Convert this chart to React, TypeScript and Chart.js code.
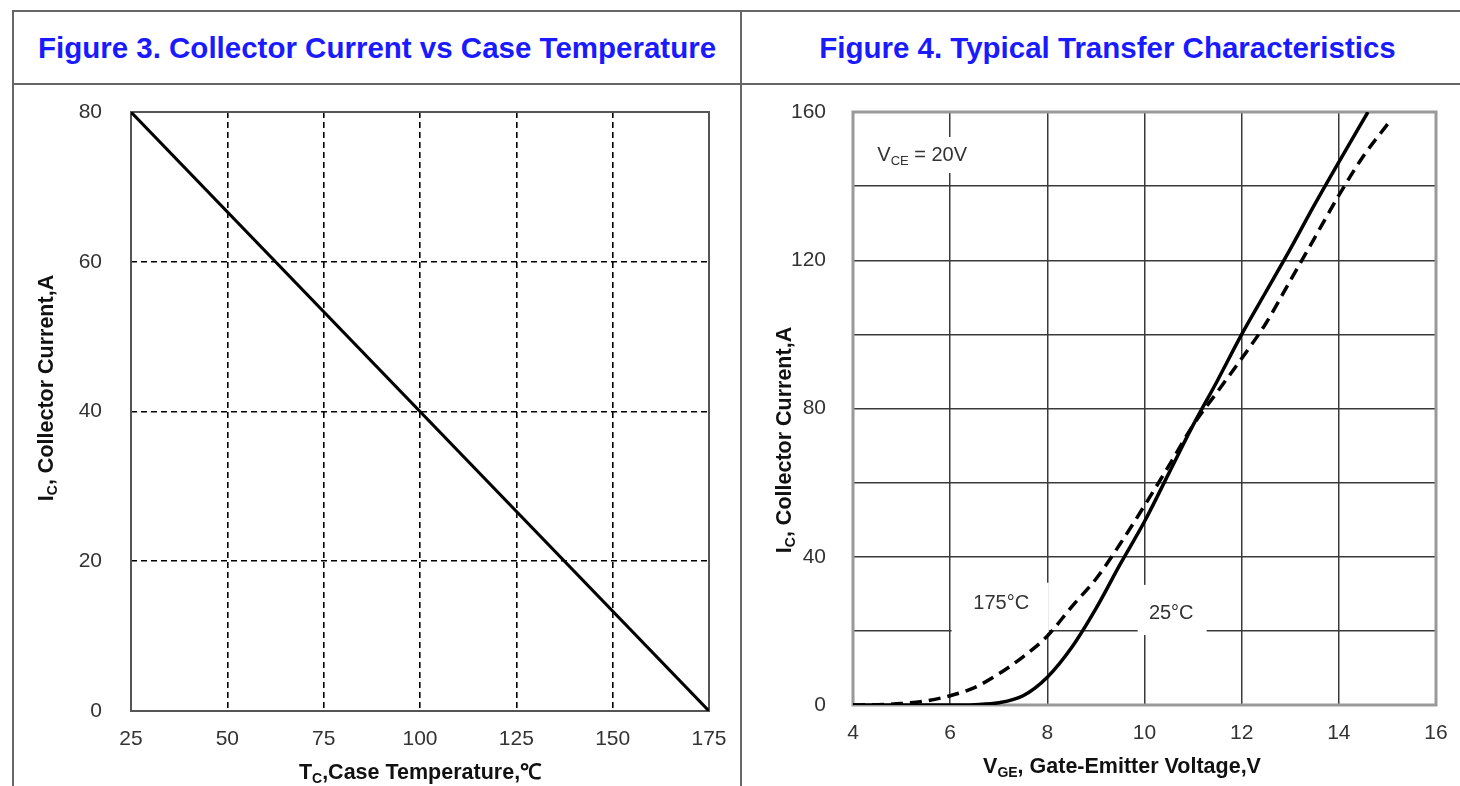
import React, { useEffect, useRef } from "react";
import { Chart, registerables } from "chart.js";

Chart.register(...registerables);

// ---------- Figure 3 data ----------
const caseTempC = [25, 175];
const collectorCurrentA = [80, 0];
const fig3XTicks = [25, 50, 75, 100, 125, 150, 175];
const fig3YTicks = [0, 20, 40, 60, 80];

// ---------- Figure 4 data ----------
const vge25 = [4, 4.5, 5, 5.5, 6, 6.5, 7, 7.5, 8, 8.5, 9, 9.5, 10, 10.5, 11, 11.5, 12, 12.5, 13, 13.5, 14, 14.6];
const ic25 = [0, 0, 0, 0, 0, 0.1, 0.6, 2.5, 7.5, 15.5, 26, 38, 49.5, 62.5, 75.5, 87.5, 100, 111.5, 123, 135, 146.5, 160];
const vge175 = [4, 4.5, 5, 5.5, 6, 6.5, 7, 7.5, 8, 8.5, 9, 9.5, 10, 10.5, 11, 11.5, 12, 12.5, 13, 13.5, 14, 14.5, 15.05];
const ic175 = [0, 0.1, 0.4, 1.1, 2.5, 4.7, 8.4, 13, 18.6, 26.5, 34, 43.5, 53.8, 64.5, 75.5, 84.5, 93.5, 103, 114.5, 126, 137.5, 148, 157.5];
const fig4XTicks = [4, 6, 8, 10, 12, 14, 16];
const fig4YGrid = [0, 20, 40, 60, 80, 100, 120, 140, 160];
const fig4YLabels = [0, 40, 80, 120, 160];

// annotation labels (text, anchor in data units, white box in data units)
const curveLabels = ["175°C", "25°C"];
const curveLabelX = [7.05, 10.55];
const curveLabelY = [27.3, 24.8];
const curveBoxX = [[6.03, 8.03], [9.86, 11.28]];
const curveBoxY = [[19.4, 33], [18.9, 32.4]];

const FAM = '"Liberation Sans", Arial, Helvetica, sans-serif';
const TICK_COLOR = "#333";
const TICK_SIZE = 21;
const AXIS_TITLE_SIZE = 21.5;

type Part = { t: string; sub?: boolean };

function drawRich(
  ctx: CanvasRenderingContext2D,
  parts: Part[],
  x: number,
  y: number,
  size: number,
  bold: boolean,
  align: "left" | "center",
  rotate = false,
  color = "#111"
) {
  const w = bold ? "bold " : "";
  const mainFont = `${w}${size}px ${FAM}`;
  const subFont = `${w}${Math.round(size * 0.66)}px ${FAM}`;
  ctx.save();
  ctx.translate(x, y);
  if (rotate) ctx.rotate(-Math.PI / 2);
  const widths = parts.map((p) => {
    ctx.font = p.sub ? subFont : mainFont;
    return ctx.measureText(p.t).width;
  });
  const total = widths.reduce((a, b) => a + b, 0);
  let cx = align === "center" ? -total / 2 : 0;
  ctx.textBaseline = "middle";
  ctx.textAlign = "left";
  ctx.fillStyle = color;
  parts.forEach((p, i) => {
    ctx.font = p.sub ? subFont : mainFont;
    ctx.fillText(p.t, cx, p.sub ? size * 0.3 : 0);
    cx += widths[i];
  });
  ctx.restore();
  return total;
}

const fixX = (h: number) => (s: any) => {
  s.height = h;
  s.paddingLeft = 0;
  s.paddingRight = 0;
};
const fixY = (w: number) => (s: any) => {
  s.width = w;
  s.paddingTop = 0;
  s.paddingBottom = 0;
};

function Fig3() {
  const ref = useRef<HTMLCanvasElement | null>(null);
  useEffect(() => {
    if (!ref.current) return;
    const framePlugin = {
      id: "fig3frame",
      beforeDatasetsDraw(chart: any) {
        const { ctx, chartArea: a } = chart;
        ctx.save();
        ctx.strokeStyle = "#555";
        ctx.lineWidth = 2;
        ctx.setLineDash([]);
        ctx.strokeRect(a.left, a.top, a.right - a.left, a.bottom - a.top);
        ctx.restore();
      },
      afterDraw(chart: any) {
        const { ctx, chartArea: a } = chart;
        drawRich(
          ctx,
          [{ t: "T" }, { t: "C", sub: true }, { t: ",Case Temperature,℃" }],
          (a.left + a.right) / 2,
          687,
          AXIS_TITLE_SIZE,
          true,
          "center"
        );
        drawRich(
          ctx,
          [{ t: "I" }, { t: "C", sub: true }, { t: ", Collector Current,A" }],
          33,
          302,
          AXIS_TITLE_SIZE,
          true,
          "center",
          true
        );
      },
    };
    const chart = new Chart(ref.current, {
      type: "line",
      data: {
        datasets: [
          {
            data: caseTempC.map((x, i) => ({ x, y: collectorCurrentA[i] })),
            borderColor: "#000",
            borderWidth: 3,
            pointRadius: 0,
            fill: false,
            tension: 0,
          },
        ],
      },
      options: {
        animation: false,
        responsive: false,
        layout: { padding: { top: 26, right: 31, left: 0, bottom: 0 } },
        plugins: { legend: { display: false }, tooltip: { enabled: false }, title: { display: false } },
        scales: {
          x: {
            type: "linear",
            min: 25,
            max: 175,
            afterBuildTicks: (s: any) => {
              s.ticks = fig3XTicks.map((v) => ({ value: v }));
            },
            afterFit: fixX(75),
            grid: {
              drawTicks: false,
              lineWidth: 1.6,
              color: (c: any) =>
                c.tick && (c.tick.value === 25 || c.tick.value === 175) ? "rgba(0,0,0,0)" : "#000",
            },
            border: { display: false, dash: [6, 4] },
            ticks: { padding: 16, color: TICK_COLOR, font: { family: FAM, size: TICK_SIZE }, maxRotation: 0 },
          },
          y: {
            type: "linear",
            min: 0,
            max: 80,
            afterBuildTicks: (s: any) => {
              s.ticks = fig3YTicks.map((v) => ({ value: v }));
            },
            afterFit: fixY(117),
            grid: {
              drawTicks: false,
              lineWidth: 1.6,
              color: (c: any) =>
                c.tick && (c.tick.value === 0 || c.tick.value === 80) ? "rgba(0,0,0,0)" : "#000",
            },
            border: { display: false, dash: [6, 4] },
            ticks: { padding: 29, color: TICK_COLOR, font: { family: FAM, size: TICK_SIZE } },
          },
        },
      },
      plugins: [framePlugin],
    } as any);
    return () => chart.destroy();
  }, []);
  return (
    <canvas
      ref={ref}
      width={726}
      height={700}
      style={{ position: "absolute", left: 14, top: 86, width: 726, height: 700 }}
    />
  );
}

function Fig4() {
  const ref = useRef<HTMLCanvasElement | null>(null);
  useEffect(() => {
    if (!ref.current) return;
    const notesPlugin = {
      id: "fig4notes",
      beforeDatasetsDraw(chart: any) {
        const { ctx, chartArea: a } = chart;
        const xs = chart.scales.x;
        const ys = chart.scales.y;
        ctx.save();
        // frame
        ctx.strokeStyle = "#999";
        ctx.lineWidth = 3;
        ctx.strokeRect(a.left, a.top, a.right - a.left, a.bottom - a.top);
        // white boxes + curve labels
        curveLabels.forEach((t, i) => {
          const x0 = xs.getPixelForValue(curveBoxX[i][0]);
          const x1 = xs.getPixelForValue(curveBoxX[i][1]);
          const y0 = ys.getPixelForValue(curveBoxY[i][1]);
          const y1 = ys.getPixelForValue(curveBoxY[i][0]);
          ctx.fillStyle = "#fff";
          ctx.fillRect(x0, y0, x1 - x0, y1 - y0);
          drawRich(
            ctx,
            [{ t }],
            xs.getPixelForValue(curveLabelX[i]),
            ys.getPixelForValue(curveLabelY[i]),
            20,
            false,
            "center",
            false,
            TICK_COLOR
          );
        });
        // V_CE = 20V note
        const nx = xs.getPixelForValue(4.5);
        const ny = ys.getPixelForValue(148.4);
        const parts = [{ t: "V" }, { t: "CE", sub: true }, { t: " = 20V" }];
        ctx.fillStyle = "#fff";
        ctx.fillRect(nx - 3, ny - 18, 110, 36);
        drawRich(ctx, parts, nx, ny, 20, false, "left", false, TICK_COLOR);
        ctx.restore();
      },
      afterDraw(chart: any) {
        const { ctx } = chart;
        drawRich(
          ctx,
          [{ t: "V" }, { t: "GE", sub: true }, { t: ", Gate-Emitter Voltage,V" }],
          380,
          681,
          AXIS_TITLE_SIZE,
          true,
          "center"
        );
        drawRich(
          ctx,
          [{ t: "I" }, { t: "C", sub: true }, { t: ", Collector Current,A" }],
          43,
          354,
          AXIS_TITLE_SIZE,
          true,
          "center",
          true
        );
      },
    };
    const chart = new Chart(ref.current, {
      type: "line",
      data: {
        datasets: [
          {
            label: "25°C",
            data: vge25.map((x, i) => ({ x, y: ic25[i] })),
            borderColor: "#000",
            borderWidth: 3.5,
            pointRadius: 0,
            fill: false,
            cubicInterpolationMode: "monotone",
          },
          {
            label: "175°C",
            data: vge175.map((x, i) => ({ x, y: ic175[i] })),
            borderColor: "#000",
            borderWidth: 3.5,
            borderDash: [12, 7],
            pointRadius: 0,
            fill: false,
            cubicInterpolationMode: "monotone",
          },
        ],
      },
      options: {
        animation: false,
        responsive: false,
        layout: { padding: { top: 26, right: 24, left: 0, bottom: 0 } },
        plugins: { legend: { display: false }, tooltip: { enabled: false }, title: { display: false } },
        scales: {
          x: {
            type: "linear",
            min: 4,
            max: 16,
            afterBuildTicks: (s: any) => {
              s.ticks = fig4XTicks.map((v) => ({ value: v }));
            },
            afterFit: fixX(81),
            grid: { drawTicks: false, lineWidth: 1.5, color: "#3a3a3a" },
            border: { display: false },
            ticks: { padding: 16, color: TICK_COLOR, font: { family: FAM, size: TICK_SIZE }, maxRotation: 0 },
          },
          y: {
            type: "linear",
            min: 0,
            max: 160,
            afterBuildTicks: (s: any) => {
              s.ticks = fig4YGrid.map((v) => ({ value: v }));
            },
            afterFit: fixY(111),
            grid: { drawTicks: false, lineWidth: 1.5, color: "#3a3a3a" },
            border: { display: false },
            ticks: {
              padding: 27,
              color: TICK_COLOR,
              font: { family: FAM, size: TICK_SIZE },
              callback: (v: any) => (fig4YLabels.includes(Number(v)) ? String(v) : ""),
            },
          },
        },
      },
      plugins: [notesPlugin],
    } as any);
    return () => chart.destroy();
  }, []);
  return (
    <canvas
      ref={ref}
      width={718}
      height={700}
      style={{ position: "absolute", left: 742, top: 86, width: 718, height: 700 }}
    />
  );
}

const lineStyle = { position: "absolute" as const, background: "#666" };
const titleStyle = {
  position: "absolute" as const,
  top: 12,
  height: 71,
  lineHeight: "71px",
  textAlign: "center" as const,
  fontFamily: FAM,
  fontWeight: "bold" as const,
  fontSize: 29.5,
  color: "#1a1aff",
  whiteSpace: "nowrap" as const,
};

export default function App() {
  return (
    <div
      style={{
        position: "fixed",
        left: 0,
        top: 0,
        width: 1460,
        height: 786,
        background: "#fff",
        overflow: "hidden",
      }}
    >
      <div style={{ ...lineStyle, left: 12, top: 10, width: 1460, height: 2 }} />
      <div style={{ ...lineStyle, left: 12, top: 83, width: 1460, height: 2 }} />
      <div style={{ ...lineStyle, left: 12, top: 10, width: 2, height: 790 }} />
      <div style={{ ...lineStyle, left: 740, top: 10, width: 2, height: 790 }} />
      <div style={{ ...titleStyle, left: 14, width: 726 }}>Figure 3. Collector Current vs Case Temperature</div>
      <div style={{ ...titleStyle, left: 742, width: 731 }}>Figure 4. Typical Transfer Characteristics</div>
      <Fig3 />
      <Fig4 />
    </div>
  );
}
